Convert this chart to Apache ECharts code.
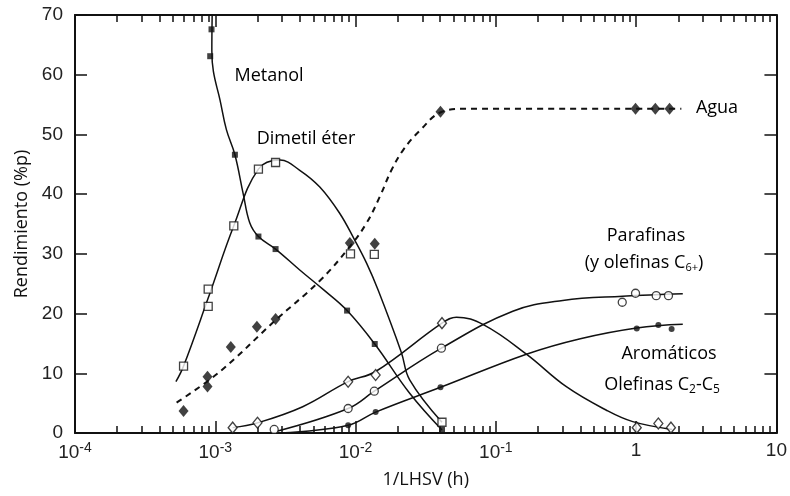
<!DOCTYPE html>
<html>
<head>
<meta charset="utf-8">
<script src="https://cdn.jsdelivr.net/npm/echarts@6/dist/echarts.min.js"></script>
<style>
  html, body { margin: 0; padding: 0; background: #fff; }
  #chart { width: 790px; height: 496px; }
</style>
</head>
<body>
<div id="chart"></div>
<script>
// measured points (x = 1/LHSV in h, y = rendimiento %p)
const metanolX = [9.4e-4, 9.2e-4, 1.38e-3, 2.03e-3, 2.69e-3, 8.7e-3, 1.37e-2, 4.13e-2];
const metanolY = [67.6, 63.1, 46.6, 32.9, 30.8, 20.5, 14.9, 0.5];
const dmeX = [5.94e-4, 8.9e-4, 8.9e-4, 1.355e-3, 2.03e-3, 2.69e-3, 9.2e-3, 1.36e-2, 4.13e-2];
const dmeY = [11.2, 21.2, 24.1, 34.7, 44.2, 45.3, 30.0, 29.9, 1.8];
const aguaX = [5.94e-4, 8.8e-4, 8.8e-4, 1.29e-3, 1.98e-3, 2.69e-3, 9.1e-3, 1.37e-2, 4.03e-2, 0.99, 1.37, 1.73];
const aguaY = [3.7, 7.8, 9.4, 14.4, 17.8, 19.1, 31.8, 31.7, 53.8, 54.3, 54.3, 54.3];
const parX = [2.63e-3, 8.85e-3, 1.36e-2, 4.09e-2, 0.796, 0.99, 1.39, 1.7];
const parY = [0.6, 4.1, 7.0, 14.2, 21.9, 23.4, 23.0, 23.0];
const aroX = [8.85e-3, 1.39e-2, 4.03e-2, 1.01, 1.44, 1.79];
const aroY = [1.3, 3.5, 7.65, 17.5, 18.1, 17.4];
const oleX = [1.33e-3, 2.0e-3, 8.85e-3, 1.39e-2, 4.13e-2, 1.01, 1.44, 1.77];
const oleY = [0.9, 1.7, 8.6, 9.7, 18.4, 0.9, 1.6, 0.9];

// hand drawn trend curves
const metanolFitX = [9.5e-4, 9.45e-4, 9.7e-4, 1.08e-3, 1.2e-3, 1.38e-3, 1.58e-3, 1.76e-3, 2.03e-3, 2.69e-3, 4.0e-3, 5.9e-3, 8.7e-3, 1.37e-2, 2.43e-2, 4.13e-2];
const metanolFitY = [70, 64, 60.5, 55.8, 50.8, 46.6, 40.1, 35.2, 32.9, 30.8, 27.3, 24.0, 20.5, 14.9, 6.65, 0.5];
const dmeFitX = [5.24e-4, 5.94e-4, 8.9e-4, 1.355e-3, 2.03e-3, 2.9e-3, 4.0e-3, 5.56e-3, 7.7e-3, 9.86e-3, 1.2e-2, 1.45e-2, 2.12e-2, 2.43e-2, 4.13e-2];
const dmeFitY = [8.6, 11.2, 22.6, 34.7, 44.2, 45.7, 44.0, 41.2, 36.8, 32.3, 28.4, 23.9, 13.5, 8.9, 1.8];
const aguaFitX = [5.3e-4, 1.08e-3, 2.69e-3, 5.56e-3, 9.1e-3, 1.2e-2, 1.49e-2, 1.8e-2, 2.2e-2, 2.86e-2, 4.13e-2, 6.0e-2, 2.1];
const aguaFitY = [5.1, 10.3, 18.9, 25.5, 31.2, 35.2, 39.6, 44.0, 47.5, 50.6, 53.8, 54.3, 54.3];
const parFitX = [2.75e-3, 8.85e-3, 1.36e-2, 4.09e-2, 0.132, 0.3, 0.8, 2.15];
const parFitY = [0.3, 4.1, 7.0, 14.2, 20.4, 22.2, 22.9, 23.3];
const aroFitX = [2.9e-3, 8.85e-3, 1.39e-2, 4.03e-2, 0.165, 0.4, 1.01, 2.15];
const aroFitY = [0, 1.3, 3.5, 7.65, 13.2, 15.8, 17.6, 18.2];
const oleFitX = [1.33e-3, 2.0e-3, 4.2e-3, 8.85e-3, 1.39e-2, 4.13e-2, 5.24e-2, 8.2e-2, 0.165, 0.318, 0.61, 0.946, 1.8];
const oleFitY = [0.9, 1.7, 4.4, 8.6, 10.3, 18.4, 19.4, 18.1, 13.2, 7.75, 3.85, 1.9, 0.6];

// axis ticks
const xDecades = [-4, -3, -2, -1, 0, 1];
const xTickLabels = ['{b|10}{s|-4}', '{b|10}{s|-3}', '{b|10}{s|-2}', '{b|10}{s|-1}', '1', '10'];
const yTicks = [0, 10, 20, 30, 40, 50, 60, 70];

const pairs = (xs, ys) => xs.map((x, i) => [x, ys[i]]);

// minor tick positions in log10 space (2..9 of each decade)
const minorLog = [];
xDecades.slice(0, -1).forEach((d) => {
  for (let k = 2; k <= 9; k++) minorLog.push(d + Math.log10(k));
});

const black = '#111';
const fitLine = (data, dashed) => ({
  type: 'line',
  data,
  smooth: 0.4,
  showSymbol: false,
  silent: true,
  z: 2,
  lineStyle: { color: black, width: dashed ? 2 : 1.5, type: dashed ? [6, 5] : 'solid' },
});
const dots = (data, symbol, size, open) => ({
  type: 'scatter',
  data,
  symbol,
  symbolSize: size,
  z: 5,
  itemStyle: open
    ? { color: '#fff', borderColor: black, borderWidth: 1.3 }
    : { color: black },
});

const tickFont = { fontFamily: 'Liberation Sans', fontSize: 19, color: '#222' };
const noteFont = { fontFamily: 'Open Sans', fontSize: 18, color: '#111' };
const frameLine = () => ({ show: true, onZero: false, lineStyle: { color: black, width: 2 } });
const majorTick = () => ({ show: true, inside: true, length: 12, lineStyle: { color: black, width: 1.5 } });
const minorTickAxis = (position) => ({
  type: 'value',
  min: -4,
  max: 1,
  position,
  axisLine: { show: false, onZero: false },
  axisLabel: { show: false },
  splitLine: { show: false },
  axisTick: { inside: true, length: 7, customValues: minorLog, lineStyle: { color: black, width: 1.5 } },
});

const option = {
  backgroundColor: '#fff',
  animation: false,
  grid: { left: 75, top: 15, width: 702, height: 418 },
  xAxis: [
    {
      type: 'log',
      logBase: 10,
      min: 1e-4,
      max: 10,
      position: 'bottom',
      name: '1/LHSV (h)',
      nameLocation: 'middle',
      nameGap: 38,
      nameTextStyle: { fontFamily: 'Open Sans', fontSize: 18, color: '#111' },
      axisLine: frameLine(),
      axisTick: majorTick(),
      splitLine: { show: false },
      axisLabel: {
        margin: 8,
        formatter: (v) => xTickLabels[Math.round(Math.log10(v)) + 4],
        ...tickFont,
        rich: {
          b: { ...tickFont },
          s: { fontFamily: 'Liberation Sans', fontSize: 14, color: '#222', padding: [0, 0, 9, 0] },
        },
      },
    },
    {
      type: 'log',
      logBase: 10,
      min: 1e-4,
      max: 10,
      position: 'top',
      axisLine: frameLine(),
      axisTick: majorTick(),
      axisLabel: { show: false },
      splitLine: { show: false },
    },
    minorTickAxis('bottom'),
    minorTickAxis('top'),
  ],
  yAxis: [
    {
      type: 'value',
      min: 0,
      max: 70,
      interval: 10,
      position: 'left',
      name: 'Rendimiento (%p)',
      nameLocation: 'middle',
      nameRotate: 90,
      nameGap: 42,
      nameTextStyle: { fontFamily: 'Open Sans', fontSize: 18, color: '#111' },
      axisLine: frameLine(),
      axisTick: majorTick(),
      splitLine: { show: false },
      axisLabel: { margin: 12, ...tickFont, formatter: (v) => (yTicks.includes(v) ? String(v) : '') },
    },
    {
      type: 'value',
      min: 0,
      max: 70,
      interval: 10,
      position: 'right',
      axisLine: frameLine(),
      axisTick: majorTick(),
      axisLabel: { show: false },
      splitLine: { show: false },
    },
  ],
  series: [
    fitLine(pairs(metanolFitX, metanolFitY)),
    fitLine(pairs(dmeFitX, dmeFitY)),
    fitLine(pairs(aguaFitX, aguaFitY), true),
    fitLine(pairs(parFitX, parFitY)),
    fitLine(pairs(aroFitX, aroFitY)),
    fitLine(pairs(oleFitX, oleFitY)),
    dots(pairs(metanolX, metanolY), 'rect', 6, false),
    dots(pairs(dmeX, dmeY), 'rect', 8, true),
    dots(pairs(aguaX, aguaY), 'diamond', [10, 12], false),
    dots(pairs(parX, parY), 'circle', 8, true),
    dots(pairs(aroX, aroY), 'circle', 6, false),
    dots(pairs(oleX, oleY), 'diamond', [9, 11], true),
  ],
  graphic: [
    { type: 'text', x: 269, y: 76, style: { text: 'Metanol', ...noteFont, align: 'center', verticalAlign: 'middle' } },
    { type: 'text', x: 306, y: 139, style: { text: 'Dimetil éter', ...noteFont, align: 'center', verticalAlign: 'middle' } },
    { type: 'text', x: 717, y: 108, style: { text: 'Agua', ...noteFont, align: 'center', verticalAlign: 'middle' } },
    { type: 'text', x: 646, y: 236, style: { text: 'Parafinas', ...noteFont, align: 'center', verticalAlign: 'middle' } },
    {
      type: 'text', x: 644, y: 263,
      style: {
        text: '(y olefinas C{s|6+})', ...noteFont, align: 'center', verticalAlign: 'middle',
        rich: { s: { fontFamily: 'Open Sans', fontSize: 11, color: '#111', padding: [9, 0, 0, 0] } },
      },
    },
    { type: 'text', x: 669, y: 354, style: { text: 'Aromáticos', ...noteFont, align: 'center', verticalAlign: 'middle' } },
    {
      type: 'text', x: 662, y: 385,
      style: {
        text: 'Olefinas C{s|2}-C{s|5}', ...noteFont, align: 'center', verticalAlign: 'middle',
        rich: { s: { fontFamily: 'Open Sans', fontSize: 12, color: '#111', padding: [9, 0, 0, 0] } },
      },
    },
  ],
};

const chart = echarts.init(document.getElementById('chart'));
chart.setOption(option);
</script>
</body>
</html>
